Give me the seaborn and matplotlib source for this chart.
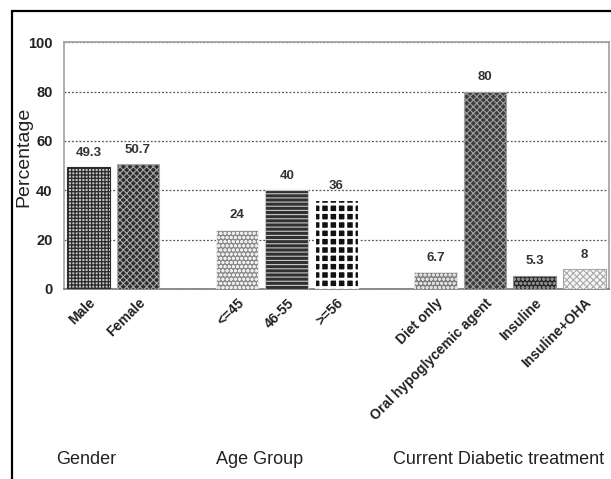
import matplotlib
matplotlib.use("Agg")

import matplotlib.pyplot as plt
import matplotlib.patches as mpatches
import matplotlib.transforms as mtransforms
import pandas as pd
import seaborn as sns


groups = ["Gender", "Gender", "Age Group", "Age Group", "Age Group",
          "Current Diabetic treatment", "Current Diabetic treatment",
          "Current Diabetic treatment", "Current Diabetic treatment"]
labels = ["Male", "Female", "<=45", "46-55", ">=56",
          "Diet only", "Oral hypoglycemic agent", "Insuline", "Insuline+OHA"]
percent = [49.3, 50.7, 24, 40, 36, 6.7, 80, 5.3, 8]
group_titles = ["Gender", "Age Group", "Current Diabetic treatment"]

# blank slots separate the three groups
order = ["Male", "Female", "", "<=45", "46-55", ">=56", " ",
         "Diet only", "Oral hypoglycemic agent", "Insuline", "Insuline+OHA"]

# (face, hatch, hatch colour, hatch width) per bar, imitating the greyscale textures
styles = {
    "Male": ("#c4c4c4", "+++++", "#2a2a2a", 0.9),
    "Female": ("#2e2e2e", "xxxxx", "#a8a8a8", 0.8),
    "<=45": ("#8a8a8a", "oooo", "#eeeeee", 0.9),
    "46-55": ("#303030", "----", "#c8c8c8", 0.8),
    ">=56": ("#111111", "++", "#ffffff", 2.0),
    "Diet only": ("#7a7a7a", "oooo", "#e0e0e0", 0.9),
    "Oral hypoglycemic agent": ("#3c3c3c", "xxxxx", "#a0a0a0", 0.8),
    "Insuline": ("#262626", "oooo", "#8a8a8a", 0.9),
    "Insuline+OHA": ("#f6f6f6", "xxxxx", "#a8a8a8", 0.8),
}

df = pd.DataFrame({"group": groups, "label": labels, "percent": percent})

sns.set_style("white")
plt.rcParams["font.family"] = ["Liberation Sans", "DejaVu Sans"]

fig = plt.figure(figsize=(6.11, 4.79), dpi=100)
ax = fig.add_axes([0.104, 0.397, 0.893, 0.5147])

sns.barplot(data=df, x="label", y="percent", order=order, width=0.86,
            color="#777777", errorbar=None, ax=ax, zorder=3)

for patch in ax.patches:
    idx = int(round(patch.get_x() + patch.get_width() / 2))
    face, hatch, edge, hlw = styles[order[idx]]
    patch.set_facecolor(face)
    patch.set_hatch(hatch)
    patch.set_edgecolor(edge)
    patch.set_linewidth(0.8)
    if hasattr(patch, "set_hatch_linewidth"):
        patch.set_hatch_linewidth(hlw)

for cont in ax.containers:
    ax.bar_label(cont, labels=[f"{v:g}" for v in cont.datavalues],
                 padding=6, fontsize=9.5, fontweight="bold", color="#333333")

ax.set_ylim(0, 100)
ax.set_xlim(-0.5, 10.5)
ax.set_yticks([0, 20, 40, 60, 80, 100])
ax.yaxis.grid(True, linestyle=(0, (1.5, 1.5)), color="#555555", linewidth=0.9, zorder=0)
ax.set_axisbelow(True)
ax.tick_params(axis="both", length=0)
ax.tick_params(axis="y", pad=8)
ax.tick_params(axis="x", pad=5)
for t in ax.get_yticklabels():
    t.set_fontweight("bold")
    t.set_fontsize(10.5)
    t.set_color("#222222")
ax.set_xticks(range(len(order)))
ax.set_xticklabels(order, rotation=45, ha="right", rotation_mode="anchor",
                   fontsize=10, fontweight="bold", color="#222222")
ax.set_xlabel("")
ax.set_ylabel("Percentage", fontsize=14, color="#222222")
ax.yaxis.set_label_coords(-0.058, 0.535)

for side in ["left", "right", "top", "bottom"]:
    ax.spines[side].set_color("#a0a0a0")
    ax.spines[side].set_linewidth(1.2)
ax.spines["bottom"].set_color("#777777")

# group captions under the rotated labels
title_x = [-0.05, 3.45, 8.28]
caption_tf = mtransforms.blended_transform_factory(ax.transData, fig.transFigure)
for gx, title in zip(title_x, group_titles):
    ax.text(gx, 19 / 479, title, transform=caption_tf,
            ha="center", va="center", fontsize=13, color="#222222")

# outer frame, cut off on the right and bottom as in the source
frame = mpatches.Rectangle((12 / 611, -0.2), 1.2, 1.2 - 11 / 479, transform=fig.transFigure,
                           fill=False, edgecolor="black", linewidth=1.6)
fig.patches.append(frame)

fig.savefig("out.png", dpi=100)
plt.close(fig)
